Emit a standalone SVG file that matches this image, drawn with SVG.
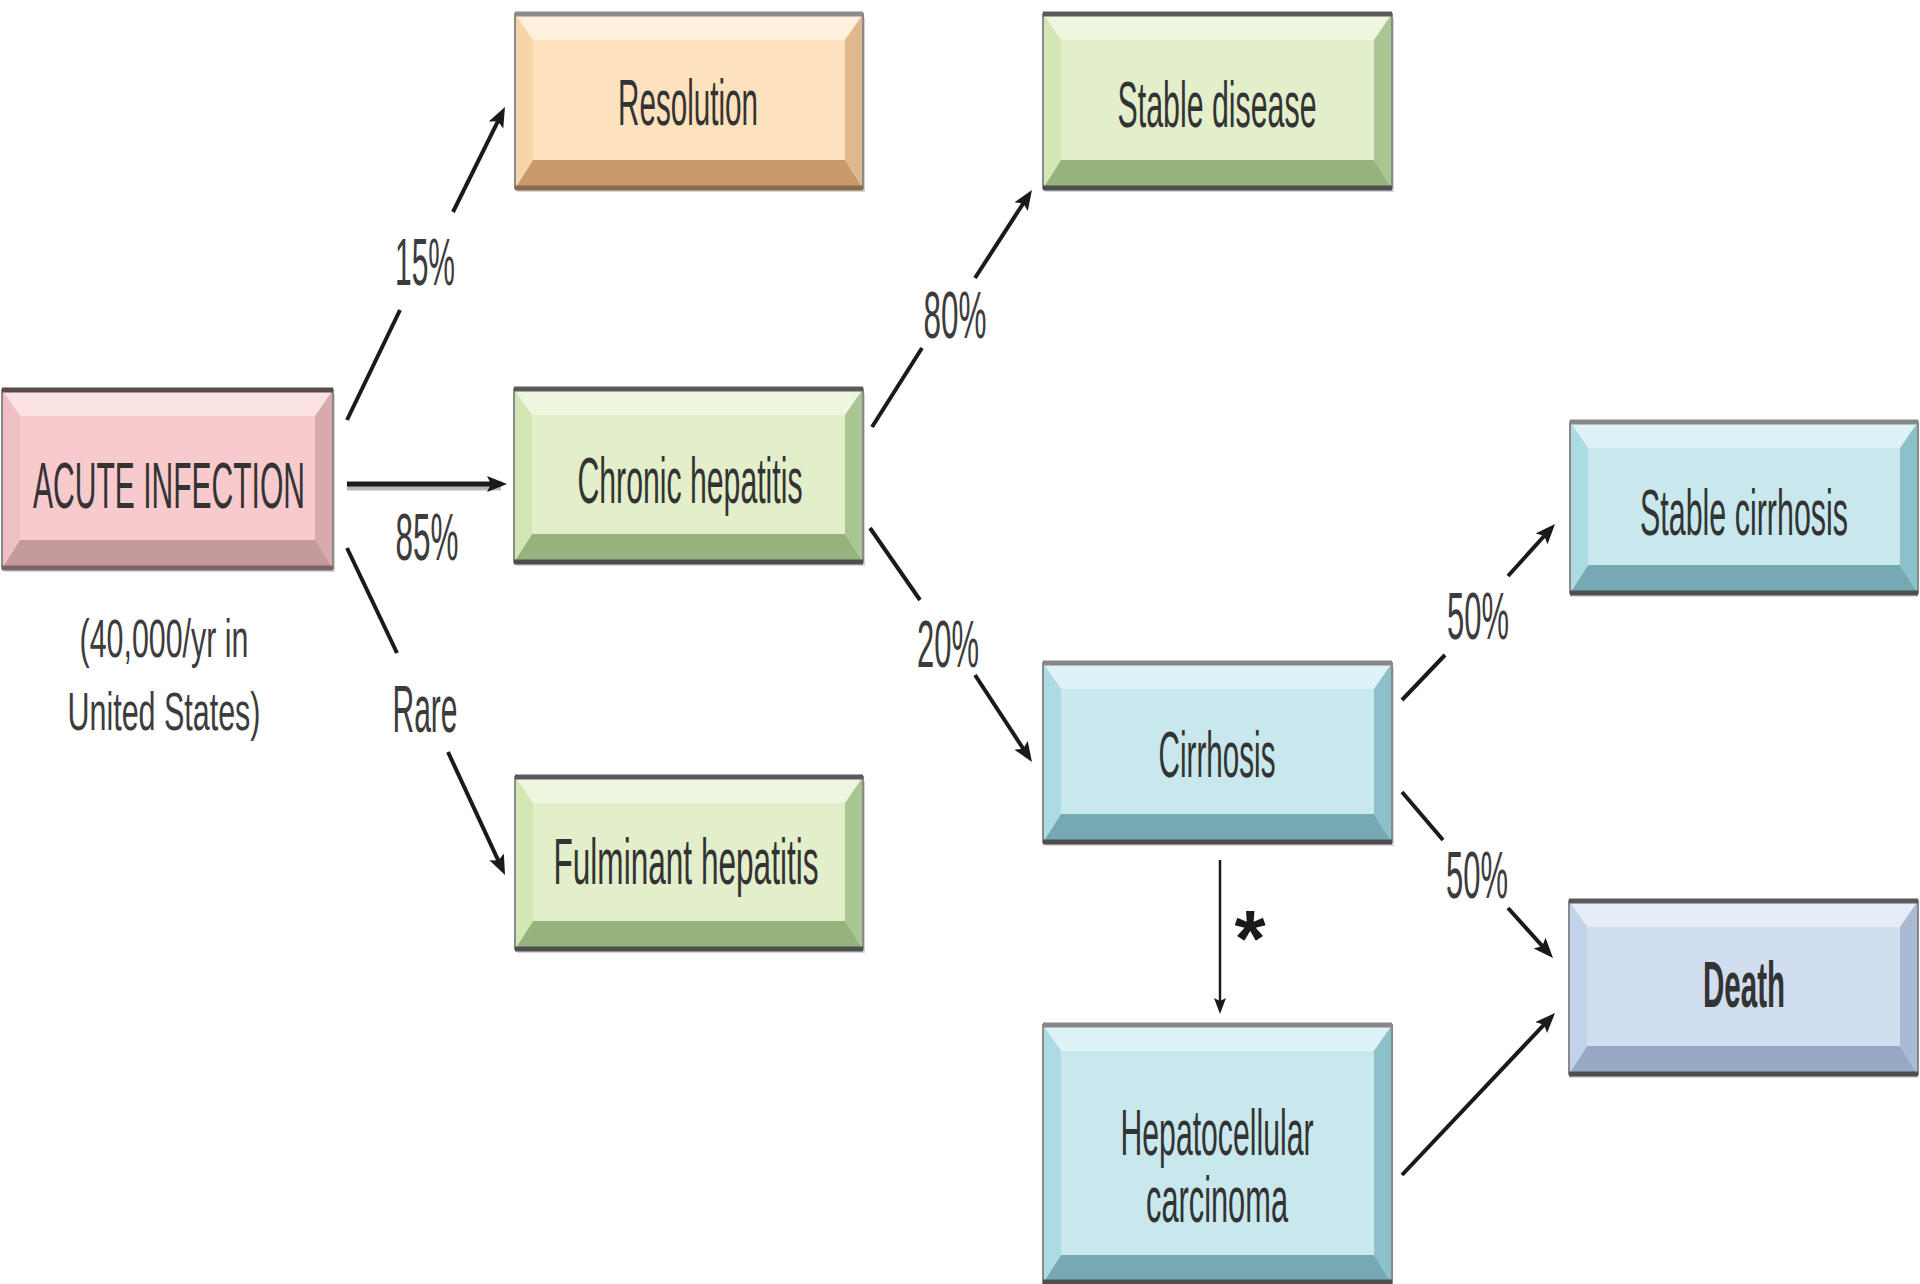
<svg xmlns="http://www.w3.org/2000/svg" width="1920" height="1284" viewBox="0 0 1920 1284">
<defs>
<style>
.t{font-family:"Liberation Sans",Arial,sans-serif;font-size:64px;fill:#333;text-anchor:middle}
.lbl{font-family:"Liberation Sans",Arial,sans-serif;font-size:66px;fill:#3c3c3c;text-anchor:middle}
.sub{font-family:"Liberation Sans",Arial,sans-serif;font-size:54px;fill:#3c3c3c;text-anchor:middle}
.shadow{fill:#d6d6d6}
.edge{fill:none;stroke:#8a8a8a;stroke-width:2}
.tb{stroke:#5a5a5a;stroke-width:5}
.bb{stroke:#4e4e4e;stroke-width:5}
.pink .face{fill:#f7cacd}.pink .top{fill:#fbe2e3}.pink .bot{fill:#c49a9c}.pink .lft{fill:#efc0c3}.pink .rgt{fill:#d7abad}
.pink .tb{stroke:#5c4a4a}.pink .bb{stroke:#7c6365}
.orng .face{fill:#fde2bd}.orng .top{fill:#fef0dc}.orng .bot{fill:#c99b6b}.orng .lft{fill:#f6d5aa}.orng .rgt{fill:#dfb98d}
.orng .tb{stroke:#8c8c8c}.orng .bb{stroke:#8a6a4a}
.grn .face{fill:#e3eecb}.grn .top{fill:#eef6e0}.grn .bot{fill:#96b27d}.grn .lft{fill:#d2e7b3}.grn .rgt{fill:#aac693}
.blu .face{fill:#c8e8ee}.blu .top{fill:#def3f8}.blu .bot{fill:#76a9b4}.blu .lft{fill:#acdbe3}.blu .rgt{fill:#8dc1ca}
.blu .tb{stroke:#878787}
.lav .face{fill:#d1deef}.lav .top{fill:#e6edf8}.lav .bot{fill:#97a9c4}.lav .lft{fill:#c2d2ea}.lav .rgt{fill:#aabad4}
.ln{stroke:#1a1a1a;stroke-width:4;fill:none}
.ar{stroke:#1a1a1a;stroke-width:4;fill:none;marker-end:url(#ah)}
</style>
<marker id="ah" markerUnits="userSpaceOnUse" markerWidth="22" markerHeight="18" refX="14" refY="8" orient="auto">
<path d="M0,0 L20,8 L0,16 L4,8 Z" fill="#1a1a1a"/>
</marker>
<marker id="ahs" markerUnits="userSpaceOnUse" markerWidth="18" markerHeight="14" refX="10" refY="6" orient="auto">
<path d="M0,0 L16,6 L0,12 L3,6 Z" fill="#1a1a1a"/>
</marker>
</defs>
<rect width="1920" height="1284" fill="#ffffff"/>

<g id="acute" class="pink" transform="translate(2,390)">
<rect class="shadow" x="2" y="4" width="331" height="178"/>
<rect class="face" width="331" height="178"/>
<polygon class="top" points="0,0 331,0 313,26 18,26"/>
<polygon class="bot" points="0,178 331,178 313,150 18,150"/>
<polygon class="lft" points="0,0 18,26 18,150 0,178"/>
<polygon class="rgt" points="331,0 313,26 313,150 331,178"/>
<rect class="edge" width="331" height="178"/>
<line class="tb" x1="0" y1="0" x2="331" y2="0"/>
<line class="bb" x1="0" y1="178" x2="331" y2="178"/>
<text class="t" transform="translate(167,118) scale(0.5,1)" x="0" y="0" font-size="66" textLength="544" lengthAdjust="spacingAndGlyphs">ACUTE INFECTION</text>
</g>
<g id="acute-note">
<text class="sub" transform="translate(164,657) scale(0.5,1)" x="0" y="0" textLength="338" lengthAdjust="spacingAndGlyphs">(40,000/yr in</text>
<text class="sub" transform="translate(164,730) scale(0.5,1)" x="0" y="0" textLength="386" lengthAdjust="spacingAndGlyphs">United States)</text>
</g>

<g id="resolution" class="orng" transform="translate(515,14)">
<rect class="shadow" x="2" y="4" width="348" height="174"/>
<rect class="face" width="348" height="174"/>
<polygon class="top" points="0,0 348,0 330,26 18,26"/>
<polygon class="bot" points="0,174 348,174 330,146 18,146"/>
<polygon class="lft" points="0,0 18,26 18,146 0,174"/>
<polygon class="rgt" points="348,0 330,26 330,146 348,174"/>
<rect class="edge" width="348" height="174"/>
<line class="tb" x1="0" y1="0" x2="348" y2="0"/>
<line class="bb" x1="0" y1="174" x2="348" y2="174"/>
<text class="t" transform="translate(173,111) scale(0.5,1)" x="0" y="0" textLength="280" lengthAdjust="spacingAndGlyphs">Resolution</text>
</g>

<g id="chronic" class="grn" transform="translate(514,389)">
<rect class="shadow" x="2" y="4" width="349" height="173"/>
<rect class="face" width="349" height="173"/>
<polygon class="top" points="0,0 349,0 331,26 18,26"/>
<polygon class="bot" points="0,173 349,173 331,145 18,145"/>
<polygon class="lft" points="0,0 18,26 18,145 0,173"/>
<polygon class="rgt" points="349,0 331,26 331,145 349,173"/>
<rect class="edge" width="349" height="173"/>
<line class="tb" x1="0" y1="0" x2="349" y2="0"/>
<line class="bb" x1="0" y1="173" x2="349" y2="173"/>
<text class="t" transform="translate(176,114) scale(0.5,1)" x="0" y="0" textLength="450" lengthAdjust="spacingAndGlyphs">Chronic hepatitis</text>
</g>

<g id="fulminant" class="grn" transform="translate(515,777)">
<rect class="shadow" x="2" y="4" width="348" height="172"/>
<rect class="face" width="348" height="172"/>
<polygon class="top" points="0,0 348,0 330,26 18,26"/>
<polygon class="bot" points="0,172 348,172 330,144 18,144"/>
<polygon class="lft" points="0,0 18,26 18,144 0,172"/>
<polygon class="rgt" points="348,0 330,26 330,144 348,172"/>
<rect class="edge" width="348" height="172"/>
<line class="tb" x1="0" y1="0" x2="348" y2="0"/>
<line class="bb" x1="0" y1="172" x2="348" y2="172"/>
<text class="t" transform="translate(171,107) scale(0.5,1)" x="0" y="0" textLength="530" lengthAdjust="spacingAndGlyphs">Fulminant hepatitis</text>
</g>

<g id="stable-disease" class="grn" transform="translate(1043,14)">
<rect class="shadow" x="2" y="4" width="349" height="174"/>
<rect class="face" width="349" height="174"/>
<polygon class="top" points="0,0 349,0 331,26 18,26"/>
<polygon class="bot" points="0,174 349,174 331,146 18,146"/>
<polygon class="lft" points="0,0 18,26 18,146 0,174"/>
<polygon class="rgt" points="349,0 331,26 331,146 349,174"/>
<rect class="edge" width="349" height="174"/>
<line class="tb" x1="0" y1="0" x2="349" y2="0"/>
<line class="bb" x1="0" y1="174" x2="349" y2="174"/>
<text class="t" transform="translate(174,113) scale(0.5,1)" x="0" y="0" textLength="398" lengthAdjust="spacingAndGlyphs">Stable disease</text>
</g>

<g id="cirrhosis" class="blu" transform="translate(1043,663)">
<rect class="shadow" x="2" y="4" width="349" height="179"/>
<rect class="face" width="349" height="179"/>
<polygon class="top" points="0,0 349,0 331,26 18,26"/>
<polygon class="bot" points="0,179 349,179 331,151 18,151"/>
<polygon class="lft" points="0,0 18,26 18,151 0,179"/>
<polygon class="rgt" points="349,0 331,26 331,151 349,179"/>
<rect class="edge" width="349" height="179"/>
<line class="tb" x1="0" y1="0" x2="349" y2="0"/>
<line class="bb" x1="0" y1="179" x2="349" y2="179"/>
<text class="t" transform="translate(174,114) scale(0.5,1)" x="0" y="0" textLength="234" lengthAdjust="spacingAndGlyphs">Cirrhosis</text>
</g>

<g id="hcc" class="blu" transform="translate(1043,1025)">
<rect class="face" width="349" height="258"/>
<polygon class="top" points="0,0 349,0 331,26 18,26"/>
<polygon class="bot" points="0,258 349,258 331,230 18,230"/>
<polygon class="lft" points="0,0 18,26 18,230 0,258"/>
<polygon class="rgt" points="349,0 331,26 331,230 349,258"/>
<rect class="edge" width="349" height="258"/>
<line class="tb" x1="0" y1="0" x2="349" y2="0"/>
<line class="bb" x1="0" y1="257" x2="349" y2="257"/>
<text class="t" transform="translate(174,130) scale(0.5,1)" x="0" y="0" textLength="386" lengthAdjust="spacingAndGlyphs">Hepatocellular</text>
<text class="t" transform="translate(174,197) scale(0.5,1)" x="0" y="0" textLength="284" lengthAdjust="spacingAndGlyphs">carcinoma</text>
</g>

<g id="stable-cirrhosis" class="blu" transform="translate(1570,422)">
<rect class="shadow" x="0" y="4" width="348" height="171"/>
<rect class="face" width="348" height="171"/>
<polygon class="top" points="0,0 348,0 330,26 18,26"/>
<polygon class="bot" points="0,171 348,171 330,143 18,143"/>
<polygon class="lft" points="0,0 18,26 18,143 0,171"/>
<polygon class="rgt" points="348,0 330,26 330,143 348,171"/>
<rect class="edge" width="348" height="171"/>
<line class="tb" x1="0" y1="0" x2="348" y2="0"/>
<line class="bb" x1="0" y1="171" x2="348" y2="171"/>
<text class="t" transform="translate(174,113) scale(0.5,1)" x="0" y="0" textLength="416" lengthAdjust="spacingAndGlyphs">Stable cirrhosis</text>
</g>

<g id="death" class="lav" transform="translate(1569,901)">
<rect class="shadow" x="0" y="4" width="349" height="173"/>
<rect class="face" width="349" height="173"/>
<polygon class="top" points="0,0 349,0 331,26 18,26"/>
<polygon class="bot" points="0,173 349,173 331,145 18,145"/>
<polygon class="lft" points="0,0 18,26 18,145 0,173"/>
<polygon class="rgt" points="349,0 331,26 331,145 349,173"/>
<rect class="edge" width="349" height="173"/>
<line class="tb" x1="0" y1="0" x2="349" y2="0"/>
<line class="bb" x1="0" y1="173" x2="349" y2="173"/>
<text class="t" transform="translate(175,106) scale(0.5,1)" x="0" y="0" font-weight="bold" fill="#222" textLength="164" lengthAdjust="spacingAndGlyphs">Death</text>
</g>

<g id="connectors">
<line class="ln" x1="347" y1="420" x2="400" y2="310"/>
<line class="ar" x1="453" y1="212" x2="502.3" y2="112.4"/>
<text class="lbl" transform="translate(425,285) scale(0.5,1)" x="0" y="0" textLength="120" lengthAdjust="spacingAndGlyphs">15%</text>

<line x1="347" y1="488" x2="501" y2="488" stroke="#b8b8b8" stroke-width="5"/>
<line x1="347" y1="484" x2="501" y2="484" stroke="#1a1a1a" stroke-width="5" marker-end="url(#ah)"/>
<text class="lbl" transform="translate(427,560) scale(0.5,1)" x="0" y="0" textLength="126" lengthAdjust="spacingAndGlyphs">85%</text>

<line class="ln" x1="347" y1="548" x2="397" y2="653"/>
<line class="ar" x1="448" y1="752" x2="502.5" y2="869.6"/>
<text class="lbl" transform="translate(425,732) scale(0.5,1)" x="0" y="0" textLength="130" lengthAdjust="spacingAndGlyphs">Rare</text>

<line class="ln" x1="872" y1="427" x2="922" y2="348"/>
<line class="ar" x1="975" y1="278" x2="1028.7" y2="195"/>
<text class="lbl" transform="translate(955,338) scale(0.5,1)" x="0" y="0" textLength="126" lengthAdjust="spacingAndGlyphs">80%</text>

<line class="ln" x1="870" y1="528" x2="920" y2="600"/>
<line class="ar" x1="975" y1="675" x2="1028.7" y2="757"/>
<text class="lbl" transform="translate(948,667) scale(0.5,1)" x="0" y="0" textLength="124" lengthAdjust="spacingAndGlyphs">20%</text>

<line class="ln" x1="1402" y1="700" x2="1445" y2="655"/>
<line class="ar" x1="1508" y1="576" x2="1551" y2="528.5"/>
<text class="lbl" transform="translate(1478,639) scale(0.5,1)" x="0" y="0" textLength="124" lengthAdjust="spacingAndGlyphs">50%</text>

<line class="ln" x1="1402" y1="792" x2="1443" y2="840"/>
<line class="ar" x1="1508" y1="908" x2="1549" y2="953.5"/>
<text class="lbl" transform="translate(1477,898) scale(0.5,1)" x="0" y="0" textLength="124" lengthAdjust="spacingAndGlyphs">50%</text>

<line class="ar" x1="1402" y1="1175" x2="1550.9" y2="1017.4"/>

<line x1="1220" y1="860" x2="1220" y2="1008" stroke="#1a1a1a" stroke-width="2.5" marker-end="url(#ahs)"/>
<text x="1250" y="966" font-family="'Liberation Sans',Arial,sans-serif" font-size="80" font-weight="bold" fill="#1a1a1a" text-anchor="middle">*</text>
</g>
</svg>
